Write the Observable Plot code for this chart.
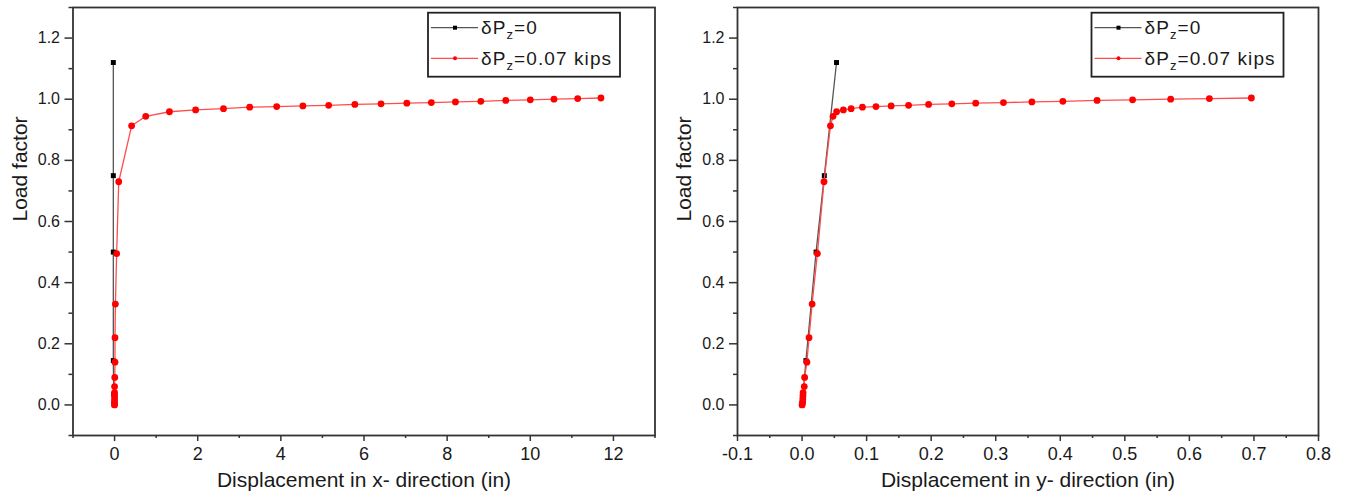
<!DOCTYPE html>
<html><head><meta charset="utf-8">
<script src="https://cdn.jsdelivr.net/npm/d3@7"></script>
<script src="https://cdn.jsdelivr.net/npm/@observablehq/plot@0.6"></script>
<style>
body{margin:0;background:#fff;}
#wrap{display:flex;width:1347px;height:504px;overflow:hidden;}
#wrap svg{display:block;}
</style></head><body><div id="wrap"></div>
<script>
// ---- data ----
const loadRed = [0, 0.005, 0.01, 0.02, 0.03, 0.04, 0.06, 0.09, 0.14, 0.22, 0.33, 0.495, 0.73,
  0.913, 0.944, 0.959, 0.965, 0.969, 0.974, 0.976, 0.978, 0.980, 0.983, 0.985, 0.987, 0.989,
  0.991, 0.993, 0.996, 0.998, 1.000, 1.002, 1.004];
const dispXRed = [0, 0, 0, 0, 0, 0, 0, 0.005, 0.01, 0.01, 0.02, 0.05, 0.1,
  0.41, 0.75, 1.32, 1.95, 2.62, 3.25, 3.9, 4.53, 5.15, 5.78, 6.41, 7.03, 7.62,
  8.2, 8.81, 9.41, 10.0, 10.57, 11.14, 11.7];
const dispYRed = [0, 0.0005, 0.001, 0.0012, 0.0014, 0.0016, 0.0034, 0.004, 0.0075, 0.0108, 0.0156, 0.0237, 0.034,
  0.044, 0.048, 0.0535, 0.064, 0.076, 0.0935, 0.1145, 0.138, 0.165, 0.196, 0.232, 0.269, 0.312,
  0.356, 0.404, 0.457, 0.512, 0.571, 0.631, 0.696];
const loadBlack = [0, 0.01, 0.035, 0.145, 0.5, 0.75, 1.12];
const dispXBlack = [-0.01, -0.01, -0.02, -0.03, -0.03, -0.03, -0.03];
const dispYBlack = [0, 0.0005, 0.0015, 0.006, 0.0217, 0.0345, 0.0534];

const legendMain = ["δP", "δP"];
const legendSub = ["z", "z"];
const legendRest = ["=0", "=0.07 kips"];

const yTicks = [0, 0.2, 0.4, 0.6, 0.8, 1.0, 1.2];
const yMinor = [-0.1, 0.1, 0.3, 0.5, 0.7, 0.9, 1.1, 1.3];
const xTicksLeft = [0, 2, 4, 6, 8, 10, 12];
const xMinorLeft = [-1, 1, 3, 5, 7, 9, 11, 13];
const xTicksRight = [-0.1, 0, 0.1, 0.2, 0.3, 0.4, 0.5, 0.6, 0.7, 0.8];
const xMinorRight = [-0.05, 0.05, 0.15, 0.25, 0.35, 0.45, 0.55, 0.65, 0.75];
const yTitle = "Load factor";
const xTitleLeft = "Displacement in x- direction (in)";
const xTitleRight = "Displacement in y- direction (in)";

const FONT = "'Liberation Sans', Arial, sans-serif";
const fmt1 = d => d3.format(".1f")(d).replace("−", "-");

function chart({dispRed, dispBlack, xDomain, xTicks, xMinor, xFmt, xTitle, width, marginLeft, marginRight}) {
  const red = loadRed.map((y, i) => ({x: dispRed[i], y}));
  const black = loadBlack.map((y, i) => ({x: dispBlack[i], y}));
  const svg = Plot.plot({
    width, height: 504, marginLeft, marginRight, marginTop: 7, marginBottom: 69,
    x: {domain: xDomain},
    y: {domain: [-0.1, 1.3]},
    style: {fontFamily: FONT, background: "#fff", color: "#1a1a1a", overflow: "visible"},
    marks: [
      Plot.axisY(yTicks, {tickSize: 8, tickPadding: 5, tickFormat: fmt1, fontSize: 16, label: null, stroke: "#333", strokeWidth: 1.5}),
      Plot.axisY(yMinor, {tickSize: 4, fill: "none", text: null, label: null, stroke: "#333", strokeWidth: 1.5}),
      Plot.axisX(xTicks, {tickSize: 6, tickPadding: 6, tickFormat: xFmt, fontSize: 18, label: null, stroke: "#333", strokeWidth: 1.5}),
      Plot.axisX(xMinor, {tickSize: 3, fill: "none", text: null, label: null, stroke: "#333", strokeWidth: 1.5}),
      Plot.line(black, {x: "x", y: "y", stroke: "#555", strokeWidth: 1.3}),
      Plot.dot(black, {x: "x", y: "y", symbol: "square", r: 2.8, fill: "#000"}),
      Plot.line(red, {x: "x", y: "y", stroke: "#ff4d4d", strokeWidth: 1.3}),
      Plot.dot(red, {x: "x", y: "y", symbol: "circle", r: 3.4, fill: "#ff0000"}),
      Plot.frame({stroke: "#333", strokeWidth: 1.8}),
      Plot.text([yTitle], {frameAnchor: "left", dx: -53, rotate: -90, fontSize: 21, fill: "#1a1a1a"}),
      Plot.text([xTitle], {frameAnchor: "bottom", dy: 51, fontSize: 21, fill: "#1a1a1a"})
    ]
  });
  // legend
  const x0 = width - marginRight - 226.5;
  const g = d3.select(svg).append("g").attr("font-family", FONT).attr("text-anchor", "start");
  g.append("rect").attr("x", x0).attr("y", 12.7).attr("width", 192).attr("height", 64)
    .attr("fill", "#fff").attr("stroke", "#222").attr("stroke-width", 1.8);
  const rows = [
    {i: 0, color: "#555", mark: "#000", sq: true, cy: 27.7},
    {i: 1, color: "#ff4d4d", mark: "#ff0000", sq: false, cy: 58.3}
  ];
  rows.forEach(r => {
    g.append("line").attr("x1", x0 + 3).attr("x2", x0 + 50).attr("y1", r.cy).attr("y2", r.cy)
      .attr("stroke", r.color).attr("stroke-width", 1.3);
    if (r.sq) g.append("rect").attr("x", x0 + 25).attr("y", r.cy - 2).attr("width", 4).attr("height", 4).attr("fill", r.mark);
    else g.append("circle").attr("cx", x0 + 27).attr("cy", r.cy).attr("r", 2).attr("fill", r.mark);
    const t = g.append("text").attr("x", x0 + 53).attr("y", r.cy + 6.5).attr("font-size", 19)
      .attr("letter-spacing", "1.1px").attr("fill", "#1a1a1a").attr("text-anchor", "start");
    t.append("tspan").text(legendMain[r.i]);
    t.append("tspan").attr("font-size", 13).attr("dy", 5).text(legendSub[r.i]);
    t.append("tspan").attr("dy", -5).text(legendRest[r.i]);
  });
  return svg;
}

const wrap = document.getElementById("wrap");
wrap.appendChild(chart({
  dispRed: dispXRed, dispBlack: dispXBlack, xDomain: [-1, 13], xTicks: xTicksLeft, xMinor: xMinorLeft,
  xFmt: d3.format("d"), xTitle: xTitleLeft, width: 665, marginLeft: 72.5, marginRight: 10.5
}));
wrap.appendChild(chart({
  dispRed: dispYRed, dispBlack: dispYBlack, xDomain: [-0.1, 0.8], xTicks: xTicksRight, xMinor: xMinorRight,
  xFmt: fmt1, xTitle: xTitleRight, width: 682, marginLeft: 72, marginRight: 29
}));
</script></body></html>
